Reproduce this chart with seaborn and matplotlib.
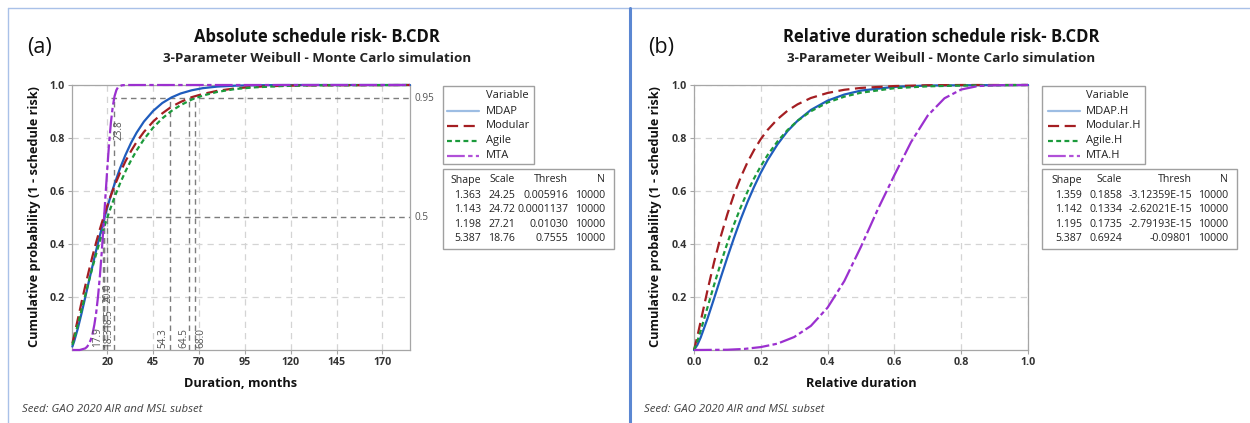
import matplotlib
matplotlib.use("Agg")
import matplotlib.pyplot as plt
from matplotlib.lines import Line2D
from matplotlib.patches import Rectangle
import seaborn as sns
import pandas as pd

# ---------------- data ----------------
series = ["MDAP", "Modular", "Agile", "MTA"]
series_rel = ["MDAP.H", "Modular.H", "Agile.H", "MTA.H"]

dur_x = [1, 2, 4, 6, 8, 10, 12, 14, 16, 18, 20, 22, 24, 27, 30, 33, 36, 40, 45, 50,
         55, 60, 66, 72, 80, 90, 100, 115, 130, 185]
mdap_abs = [0.013, 0.033, 0.082, 0.138, 0.198, 0.259, 0.318, 0.377, 0.433, 0.486,
            0.537, 0.584, 0.627, 0.686, 0.737, 0.782, 0.820, 0.862, 0.902, 0.932,
            0.953, 0.968, 0.980, 0.988, 0.994, 0.9975, 0.999, 0.9998, 1.0, 1.0]
modular_abs = [0.025, 0.055, 0.117, 0.180, 0.241, 0.299, 0.355, 0.407, 0.456, 0.501,
               0.544, 0.583, 0.620, 0.669, 0.713, 0.751, 0.785, 0.823, 0.862, 0.893,
               0.918, 0.936, 0.954, 0.966, 0.978, 0.9875, 0.993, 0.997, 0.9987, 1.0]
agile_abs = [0.019, 0.043, 0.096, 0.151, 0.206, 0.260, 0.313, 0.363, 0.411, 0.457,
             0.499, 0.539, 0.577, 0.629, 0.675, 0.716, 0.753, 0.795, 0.839, 0.874,
             0.902, 0.924, 0.945, 0.960, 0.974, 0.985, 0.991, 0.996, 0.9985, 1.0]
mta_x = [1, 5, 8, 9, 10, 11, 12, 13, 14, 15, 16, 17, 18, 19, 20, 21, 22, 23, 24, 25,
         26, 28, 30, 185]
mta_abs = [0.0, 0.0, 0.006, 0.012, 0.022, 0.038, 0.061, 0.096, 0.142, 0.203, 0.279,
           0.369, 0.470, 0.577, 0.682, 0.778, 0.858, 0.918, 0.958, 0.981, 0.993,
           0.999, 1.0, 1.0]

rel_x = [0, 0.01, 0.02, 0.04, 0.06, 0.08, 0.10, 0.12, 0.14, 0.16, 0.18, 0.20, 0.22,
         0.25, 0.28, 0.31, 0.35, 0.40, 0.45, 0.50, 0.60, 0.70, 0.80, 1.0]
mdap_rel = [0.0, 0.019, 0.047, 0.117, 0.194, 0.273, 0.350, 0.424, 0.494, 0.558, 0.616,
            0.669, 0.716, 0.776, 0.826, 0.865, 0.906, 0.941, 0.964, 0.979, 0.993,
            0.998, 0.999, 1.0]
modular_rel = [0.0, 0.051, 0.108, 0.223, 0.331, 0.428, 0.513, 0.588, 0.652, 0.708,
               0.755, 0.796, 0.830, 0.871, 0.903, 0.927, 0.951, 0.970, 0.982, 0.989,
               0.996, 0.999, 1.0, 1.0]
agile_rel = [0.0, 0.033, 0.073, 0.159, 0.245, 0.327, 0.404, 0.475, 0.539, 0.597, 0.648,
             0.694, 0.735, 0.787, 0.830, 0.865, 0.901, 0.934, 0.956, 0.971, 0.988,
             0.995, 0.998, 1.0]
mta_rel_x = [0, 0.10, 0.15, 0.20, 0.25, 0.30, 0.35, 0.40, 0.45, 0.50, 0.55, 0.60, 0.65,
             0.70, 0.75, 0.80, 0.85, 0.90, 1.0]
mta_rel = [0.0, 0.001, 0.004, 0.011, 0.024, 0.049, 0.091, 0.160, 0.260, 0.390, 0.530,
           0.660, 0.785, 0.885, 0.950, 0.983, 0.996, 0.999, 1.0]

median_vals = [17.9, 18.3, 18.5, 20.0]
p95_vals = [23.8, 54.3, 64.5, 68.0]
ref_levels = [0.5, 0.95]

abs_ticks = [20, 45, 70, 95, 120, 145, 170]
rel_ticks = [0.0, 0.2, 0.4, 0.6, 0.8, 1.0]
y_ticks = [0.2, 0.4, 0.6, 0.8, 1.0]

shape_abs = ["1.363", "1.143", "1.198", "5.387"]
scale_abs = ["24.25", "24.72", "27.21", "18.76"]
thresh_abs = ["0.005916", "0.0001137", "0.01030", "0.7555"]
n_abs = ["10000", "10000", "10000", "10000"]
shape_rel = ["1.359", "1.142", "1.195", "5.387"]
scale_rel = ["0.1858", "0.1334", "0.1735", "0.6924"]
thresh_rel = ["-3.12359E-15", "-2.62021E-15", "-2.79193E-15", "-0.09801"]
n_rel = ["10000", "10000", "10000", "10000"]

# ---------------- styling ----------------
sns.set_style("white")
plt.rcParams["font.family"] = ["Open Sans", "DejaVu Sans"]

W, H = 1250, 423
fig = plt.figure(figsize=(W / 100, H / 100), dpi=100)


def fx(p):
    return p / W


def fy(p):
    return 1 - p / H


colors = ["#1f5cbd", "#a41e22", "#1b9a3b", "#9b30cf"]
legend_colors = ["#9dbde3", "#a41e22", "#1b9a3b", "#b050d8"]
lstyles = ["-", (0, (5, 2.5)), (0, (2.2, 1.5)), (0, (8, 1.5, 2, 1.5))]
LW = 1.6
GRID = "#d4d4d4"
REF = "#7d7d7d"
TXT = "#222222"

axL = fig.add_axes([fx(72), fy(350), fx(410) - fx(72), fy(85) - fy(350)])
axR = fig.add_axes([fx(694), fy(350), fx(1028) - fx(694), fy(85) - fy(350)])

abs_df = pd.concat([
    pd.DataFrame({"x": dur_x, "y": mdap_abs, "v": series[0]}),
    pd.DataFrame({"x": dur_x, "y": modular_abs, "v": series[1]}),
    pd.DataFrame({"x": dur_x, "y": agile_abs, "v": series[2]}),
    pd.DataFrame({"x": mta_x, "y": mta_abs, "v": series[3]}),
])
rel_df = pd.concat([
    pd.DataFrame({"x": rel_x, "y": mdap_rel, "v": series_rel[0]}),
    pd.DataFrame({"x": rel_x, "y": modular_rel, "v": series_rel[1]}),
    pd.DataFrame({"x": rel_x, "y": agile_rel, "v": series_rel[2]}),
    pd.DataFrame({"x": mta_rel_x, "y": mta_rel, "v": series_rel[3]}),
])


def style_axes(ax, xlim, xticks, xlabels):
    ax.set_xlim(*xlim)
    ax.set_ylim(0, 1)
    ax.set_xticks(xticks)
    ax.set_xticklabels(xlabels)
    ax.set_yticks(y_ticks)
    ax.set_yticklabels([f"{t:.1f}" for t in y_ticks])
    for t in xticks:
        ax.axvline(t, color=GRID, lw=0.9, ls=(0, (5, 4)), zorder=0)
    for t in y_ticks:
        ax.axhline(t, color=GRID, lw=0.9, ls=(0, (5, 4)), zorder=0)
    for s in ax.spines.values():
        s.set_color("#a6a6a6")
        s.set_linewidth(0.9)
        s.set_visible(True)
    ax.tick_params(axis="both", length=3, width=0.8, color="#a6a6a6",
                   labelsize=7.7, labelcolor="#333333", pad=2, direction="out",
                   bottom=True, left=True)
    for lb in ax.get_xticklabels() + ax.get_yticklabels():
        lb.set_fontweight("bold")
    ax.set_xlabel("")
    ax.set_ylabel("")


for ax, df, names in [(axL, abs_df, series), (axR, rel_df, series_rel)]:
    for name, c, ls in zip(names, colors, lstyles):
        sub = df[df["v"] == name]
        sns.lineplot(data=sub, x="x", y="y", ax=ax, color=c, linestyle=ls, lw=LW,
                     estimator=None, sort=False, clip_on=False, zorder=3)

style_axes(axL, (0.8, 185), abs_ticks, [str(t) for t in abs_ticks])
style_axes(axR, (0, 1), rel_ticks, [f"{t:.1f}" for t in rel_ticks])

# reference lines (left panel)
refls = (0, (4, 3))
axL.vlines(median_vals, 0, ref_levels[0], colors=REF, linestyles=refls, lw=1, zorder=2)
axL.vlines(p95_vals, 0, ref_levels[1], colors=REF, linestyles=refls, lw=1, zorder=2)
axL.hlines(ref_levels[0], min(median_vals) + 2, 185, colors=REF, linestyles=refls, lw=1,
           zorder=2)
axL.hlines(ref_levels[1], min(p95_vals) - 2, 185, colors=REF, linestyles=refls, lw=1,
           zorder=2)
lab_pos = [(14.7, 0.05), (20.7, 0.045), (20.7, 0.115), (20.7, 0.215)]
for v, (px, py) in zip(median_vals, lab_pos):
    axL.text(px, py, f"{v:.1f}", rotation=90, ha="center", va="center",
             fontsize=7.2, color="#555555")
lab_pos95 = [(26.2, 0.83), (50.6, 0.045), (61.5, 0.045), (71.3, 0.045)]
for v, (px, py) in zip(p95_vals, lab_pos95):
    axL.text(px, py, f"{v:.1f}", rotation=90, ha="center", va="center",
             fontsize=7.2, color="#555555")
for lvl in ref_levels:
    axL.annotate(f"{lvl:g}", xy=(1.0, lvl), xycoords=("axes fraction", "data"),
                 xytext=(3, 0), textcoords="offset points", ha="left", va="center",
                 fontsize=7.2, color="#555555", annotation_clip=False)

# ---------------- titles and labels ----------------
fig.text(fx(40), fy(47), "(a)", fontsize=15.5, ha="center", va="center", color="#111111")
fig.text(fx(661), fy(47), "(b)", fontsize=15.5, ha="center", va="center", color="#111111")
fig.text(fx(317), fy(37), "Absolute schedule risk- B.CDR", fontsize=12, weight="bold",
         ha="center", va="center", color="#111111")
fig.text(fx(317), fy(58), "3-Parameter Weibull - Monte Carlo simulation", fontsize=9.7,
         weight="bold", ha="center", va="center", color="#222222")
fig.text(fx(941), fy(37), "Relative duration schedule risk- B.CDR", fontsize=12,
         weight="bold", ha="center", va="center", color="#111111")
fig.text(fx(941), fy(58), "3-Parameter Weibull - Monte Carlo simulation", fontsize=9.7,
         weight="bold", ha="center", va="center", color="#222222")
for xc in (35, 656):
    fig.text(fx(xc), fy(217), "Cumulative probability (1 - schedule risk)", rotation=90,
             fontsize=9.2, weight="bold", ha="center", va="center", color="#111111")
fig.text(fx(241), fy(383), "Duration, months", fontsize=9.2, weight="bold",
         ha="center", va="center", color="#111111")
fig.text(fx(861), fy(383), "Relative duration", fontsize=9.2, weight="bold",
         ha="center", va="center", color="#111111")
for xs in (22, 644):
    fig.text(fx(xs), fy(409), "Seed: GAO 2020 AIR and MSL subset", fontsize=8.2,
             style="italic", ha="left", va="center", color="#404040")

# ---------------- legends and parameter tables ----------------
def box(x0, y0, x1, y1):
    fig.add_artist(Rectangle((fx(x0), fy(y1)), fx(x1) - fx(x0), fy(y0) - fy(y1),
                             transform=fig.transFigure, fill=False,
                             edgecolor="#a0a0a0", lw=1))


def legend(x0, x1, hx0, hx1, tx, names):
    box(x0, 86, x1, 164)
    fig.text(fx(tx), fy(96), "Variable", fontsize=8, ha="left", va="center", color=TXT)
    for i, (nm, c, ls) in enumerate(zip(names, legend_colors, lstyles)):
        yy = [111, 126, 141, 156][i]
        fig.add_artist(Line2D([fx(hx0), fx(hx1)], [fy(yy), fy(yy)], color=c,
                              linestyle=ls, lw=LW, transform=fig.transFigure))
        fig.text(fx(tx), fy(yy), nm, fontsize=8, ha="left", va="center", color=TXT)


def table(x0, x1, col_right, cols):
    box(x0, 169, x1, 249)
    heads = ["Shape", "Scale", "Thresh", "N"]
    for h, xr in zip(heads, col_right):
        fig.text(fx(xr), fy(180), h, fontsize=7.6, ha="right", va="center", color=TXT)
    for r, yy in enumerate([195, 209.5, 224, 238.5]):
        for col, xr in zip(cols, col_right):
            fig.text(fx(xr), fy(yy), col[r], fontsize=7.6, ha="right", va="center",
                     color=TXT)


legend(443, 534, 447, 479, 486, series)
legend(1042, 1145, 1048, 1080, 1086, series_rel)
table(443, 614, [481, 515, 568, 605], [shape_abs, scale_abs, thresh_abs, n_abs])
table(1042, 1237, [1082, 1122, 1192, 1228], [shape_rel, scale_rel, thresh_rel, n_rel])

# ---------------- panel frame ----------------
fig.add_artist(Line2D([fx(8), 1], [fy(8.5), fy(8.5)], color="#a9c1e8", lw=1,
                      transform=fig.transFigure))
fig.add_artist(Line2D([fx(8), fx(8)], [fy(8.5), 0], color="#a9c1e8", lw=1,
                      transform=fig.transFigure))
fig.add_artist(Line2D([fx(630), fx(630)], [fy(8.5), 0], color="#5b87d2", lw=2.2,
                      transform=fig.transFigure))

fig.savefig("out.png", dpi=100, facecolor="white")
